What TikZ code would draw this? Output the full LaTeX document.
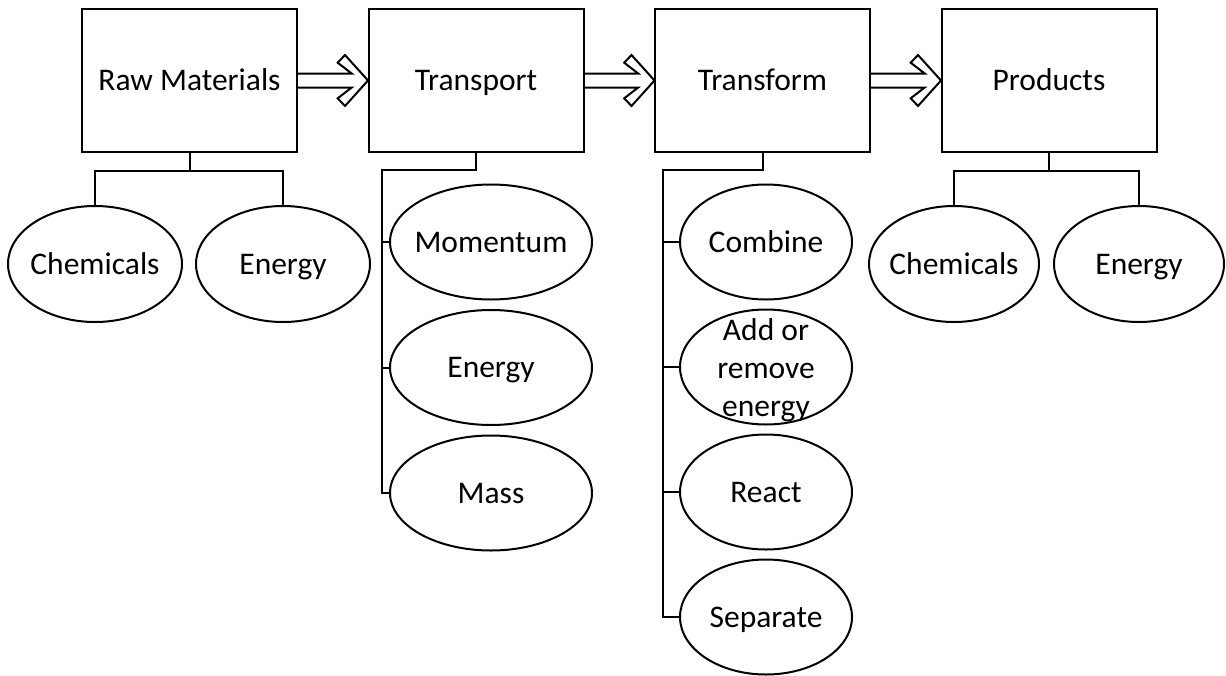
\documentclass[tikz,border=0pt]{standalone}
\usepackage{fontspec}
\setmainfont{Carlito}
\usetikzlibrary{shapes.geometric}
\tikzset{
  every picture/.style={x=1pt,y=-1pt,line width=2pt},
  lbl/.style={font=\fontsize{31.5}{38}\selectfont},
  fixed/.style={text height=20.3pt,text depth=0pt},
  stagebox/.style={draw,lbl,fixed,minimum width=215pt,minimum height=143pt,inner sep=0pt,outer sep=0pt},
  oval/.style={draw,ellipse,inner sep=0pt,outer sep=0pt,
     label={[lbl,fixed,inner sep=0pt]center:#1}},
  smalloval/.style={oval=#1,minimum width=172pt,minimum height=115pt},
  bigoval/.style={oval=#1,minimum width=202pt,minimum height=115pt},
  wire/.style={line width=2pt},
  bigarrow/.pic={\draw[line join=miter]
     (0,-7) -- (54.7,-7) -- (40.7,-17.8) -- (48,-25.5) -- (71,0) -- (48,25.5)
     -- (40.7,17.8) -- (54.7,7) -- (0,7);}
}
\begin{document}
\begin{tikzpicture}
\useasboundingbox (0,0) rectangle (1226,675);
% stage boxes
\node[stagebox] (raw) at (189.5,80.5) {Raw Materials};
\node[stagebox] (transport) at (476,80.5) {Transport};
\node[stagebox] (transform) at (762.5,80.5) {Transform};
\node[stagebox] (products) at (1049,80.5) {Products};
% arrows
\pic at (raw.east) {bigarrow};
\pic at (transport.east) {bigarrow};
\pic at (transform.east) {bigarrow};
% raw materials
\node[oval=Chemicals,minimum width=174pt,minimum height=116pt] (rchem) at (95,264) {};
\node[oval=Energy,minimum width=174pt,minimum height=116pt] (renergy) at (283,264) {};
\coordinate (rj) at (189.5,171);
\draw[wire] (raw.south) -- (rj);
\draw[wire] (rchem.north) |- (rj) -| (renergy.north);
% transport
\node[bigoval=Momentum] (mom) at (491,242) {};
\node[bigoval=Energy] (tenergy) at (491,367.5) {};
\node[bigoval=Mass] (mass) at (491,493) {};
\coordinate (tsp) at (381.5,170);
\draw[wire] (transport.south) |- (tsp) |- (mass.west);
\draw[wire] (tsp |- mom.west) -- (mom.west);
\draw[wire] (tsp |- tenergy.west) -- (tenergy.west);
% transform
\node[smalloval=Combine] (combine) at (766,242) {};
\node[draw,ellipse,inner sep=0pt,outer sep=0pt,minimum width=172pt,minimum height=115pt,
  label={[lbl,align=center,inner sep=0pt,yshift=-3pt]center:Add or\\remove\\energy}] (addrem) at (766,367) {};
\node[smalloval=React] (react) at (766,492) {};
\node[smalloval=Separate] (separate) at (766,617) {};
\coordinate (fsp) at (663,170);
\draw[wire] (transform.south) |- (fsp) |- (separate.west);
\draw[wire] (fsp |- combine.west) -- (combine.west);
\draw[wire] (fsp |- addrem.west) -- (addrem.west);
\draw[wire] (fsp |- react.west) -- (react.west);
% products
\node[oval=Chemicals,minimum width=170pt,minimum height=116pt] (pchem) at (954,264) {};
\node[oval=Energy,minimum width=170pt,minimum height=116pt] (penergy) at (1139,264) {};
\coordinate (pj) at (1049,171);
\draw[wire] (products.south) -- (pj);
\draw[wire] (pchem.north) |- (pj) -| (penergy.north);
\end{tikzpicture}
\end{document}
